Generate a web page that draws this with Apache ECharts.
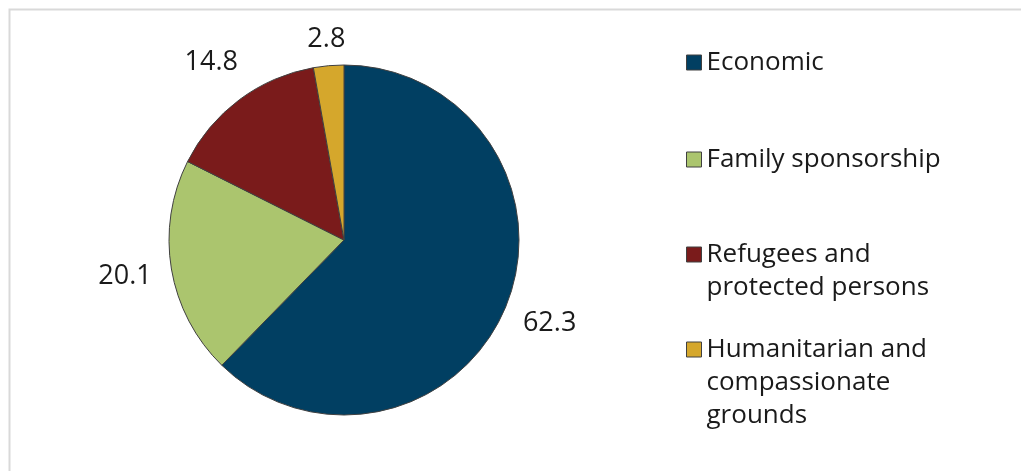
<!DOCTYPE html>
<html>
<head>
<meta charset="utf-8">
<script src="https://cdn.jsdelivr.net/npm/echarts@6/dist/echarts.min.js"></script>
<style>
html,body{margin:0;padding:0;background:#fff;}
#chart{width:1021px;height:471px;}
</style>
</head>
<body>
<div id="chart"></div>
<script>
const categories = ['Economic', 'Family sponsorship', 'Refugees and protected persons', 'Humanitarian and compassionate grounds'];
const legendLabels = ['Economic', 'Family sponsorship', 'Refugees and\nprotected persons', 'Humanitarian and\ncompassionate\ngrounds'];
const values = [62.3, 20.1, 14.8, 2.8];
const colors = ['#013f62', '#abc56e', '#7a1b1b', '#d5a72c'];

const FONT = 'Open Sans';
const LH = 33;
const legendTops = [41, 138, 200, 262];

const chart = echarts.init(document.getElementById('chart'), null, {renderer: 'canvas'});

const mainData = categories.map((c, i) => ({name: c, value: values[i], itemStyle: {color: colors[i]}}));
const labelData = (showIdx) => categories.map((c, i) => ({
  name: c, value: values[i],
  label: {show: showIdx.indexOf(i) >= 0}
}));

const legends = categories.map((c, i) => {
  const lines = legendLabels[i].split('\n');
  // blank lines above keep the icon level with the first text line
  const padded = new Array(lines.length - 1).fill('').concat(lines).join('\n');
  return {
    orient: 'vertical',
    left: 681,
    top: legendTops[i],
    itemWidth: 15,
    itemHeight: 15,
    itemGap: 0,
    selectedMode: false,
    icon: 'rect',
    formatter: function () { return padded; },
    textStyle: {fontFamily: FONT, fontSize: 26, color: '#1a1a1a', lineHeight: LH},
    data: [{name: c, itemStyle: {color: colors[i], borderColor: '#404040', borderWidth: 1}}]
  };
});

const labelStyle = {
  show: true, position: 'inside', formatter: '{c}',
  fontFamily: FONT, fontSize: 27, color: '#1a1a1a'
};

chart.setOption({
  animation: false,
  backgroundColor: '#ffffff',
  graphic: [{
    type: 'rect', left: 7, top: 7, z: -10,
    shape: {x: 0, y: 0, width: 1040, height: 490},
    style: {fill: 'none', stroke: '#d9d9d9', lineWidth: 2}
  }],
  legend: legends,
  series: [
    {
      type: 'pie', name: 'main', center: [344, 240], radius: [0, 175],
      startAngle: 90, clockwise: true, z: 2,
      itemStyle: {borderColor: '#404040', borderWidth: 1},
      label: {show: false}, labelLine: {show: false},
      emphasis: {disabled: true},
      data: mainData
    },
    {
      type: 'pie', name: 'labels', center: [344, 240], radius: [0, 438],
      startAngle: 90, clockwise: true, silent: true, z: 3,
      itemStyle: {color: 'rgba(0,0,0,0)', borderWidth: 0},
      label: labelStyle, labelLine: {show: false},
      emphasis: {disabled: true},
      data: labelData([0, 1, 2])
    },
    {
      type: 'pie', name: 'labels2', center: [344, 240], radius: [0, 396],
      startAngle: 90, clockwise: true, silent: true, z: 3,
      itemStyle: {color: 'rgba(0,0,0,0)', borderWidth: 0},
      label: labelStyle, labelLine: {show: false},
      emphasis: {disabled: true},
      data: labelData([3])
    }
  ]
});
</script>
</body>
</html>
